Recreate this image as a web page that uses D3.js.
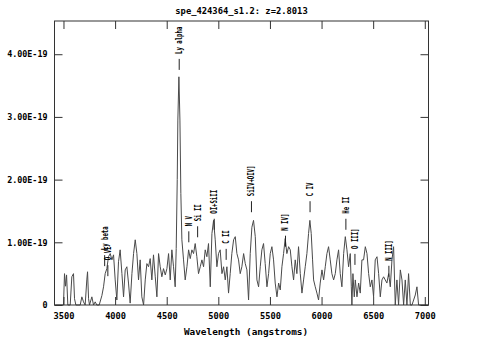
<!DOCTYPE html>
<html>
<head>
<meta charset="utf-8">
<script src="https://cdn.jsdelivr.net/npm/d3@7/dist/d3.min.js"></script>
<style>
  html, body { margin: 0; padding: 0; background: #fff; }
  svg { display: block; }
  text { font-family: "DejaVu Sans Mono", monospace; font-weight: bold; fill: #000; }
</style>
</head>
<body>
<svg id="chart" width="483" height="358"></svg>
<script>
const title = "spe_424364_s1.2: z=2.8013";
const xTitle = "Wavelength (angstroms)";
const redshift = 2.8013;
const fluxUnit = 1e-19;

// observed wavelength (Angstrom)
const wavelength = [
  3420,3500,3510,3520,3530,3542,3565,3581,3597,3607,
  3620,3662,3678,3694,3710,3726,3733,3743,3752,3775,
  3791,3807,3823,3846,3872,3888,3904,3920,3936,3953,
  3969,3985,4001,4017,4033,4049,4066,4082,4098,4114,
  4130,4146,4163,4179,4195,4211,4227,4243,4259,4276,
  4292,4308,4324,4340,4356,4372,4389,4405,4421,4437,
  4453,4469,4486,4502,4518,4534,4550,4566,4582,4592,
  4602,4608,4618,4628,4637,4647,4663,4679,4696,4712,
  4728,4744,4760,4776,4792,4808,4825,4841,4857,4873,
  4889,4905,4922,4938,4954,4970,4986,5002,5018,5035,
  5051,5067,5083,5099,5115,5131,5148,5164,5180,5196,
  5212,5228,5245,5261,5277,5293,5309,5325,5341,5358,
  5374,5390,5406,5422,5438,5454,5471,5487,5503,5519,
  5535,5551,5568,5584,5600,5616,5632,5648,5664,5681,
  5697,5713,5729,5745,5761,5777,5794,5810,5826,5842,
  5858,5874,5887,5900,5913,5923,5939,5955,5971,5987,
  6004,6020,6036,6052,6068,6084,6100,6117,6133,6149,
  6165,6181,6197,6214,6230,6246,6262,6278,6288,6294,
  6304,6317,6327,6343,6359,6375,6391,6407,6424,6440,
  6456,6472,6488,6504,6520,6537,6553,6569,6585,6601,
  6617,6633,6650,6666,6682,6698,6714,6730,6746,6763,
  6779,6795,6811,6827,6843,6860,6876,6892,6908,6924,
  6940,6973,7030
];
// flux in units of 1e-19
const flux = [
  0,0,0.50,0.30,0.48,0,0,0.45,0.50,0.10,
  0,0,0.13,0.05,0,0.40,0.53,0.10,0,0.13,
  0,0.05,0,0,0.15,0.29,0.50,0.58,0.77,0.82,
  0.72,0.80,0.40,0.08,0.69,0.88,0.50,0.13,0.56,0.61,
  0.35,0.03,0.50,0.82,1.04,0.82,0.40,0.72,0.13,0,
  0.40,0.66,0.61,0.74,0.40,0.80,0.45,0.13,0.82,0.61,
  0.45,0.58,0.48,0.58,0.82,0.40,0.88,0.61,0.29,0.90,
  2.00,2.95,3.64,2.95,1.78,1.04,0.72,0.40,0.61,0.88,
  0.74,0.88,0.82,0.98,0.77,0.50,0.61,0.72,0.61,0.88,
  0.77,0.98,0.29,1.14,1.35,1.04,0.61,0.82,0.88,0.50,
  0.61,0.40,0.61,0.19,0.50,0.82,1.04,1.09,0.82,0.72,
  0.50,0.61,0.82,0.66,0.56,0.08,0.82,1.24,1.35,1.09,
  0.40,0.29,0.61,0.88,0.98,0.66,0.29,0.50,0.82,0.93,
  0.72,0.35,0.13,0.35,0.24,0.61,0.82,1.06,0.82,0.93,
  0.88,0.61,0.40,0.72,0.50,0.93,0.50,0.19,0.40,0.61,
  0.82,1.14,1.35,1.14,0.72,0.40,0.29,0.19,0.08,0.35,
  0.56,0.40,0.61,0.82,0.93,0.72,0.50,0.40,0.50,0.72,
  0.88,0.50,0.29,0.82,1.09,0.88,0.61,0.82,0.30,0,
  0.50,0.13,0.40,0.13,0.35,0.19,0.72,0.72,0.93,0.82,
  0.50,0.29,0.40,0.13,0.72,0.77,0.50,0.13,0.40,0.45,
  0.40,0.35,0.50,0.29,0.72,0.93,0,0.40,0,0.56,
  0.40,0,0.40,0,0.50,0,0,0.08,0.16,0.29,
  0,0,0
];

const xTicks = [3500, 4000, 4500, 5000, 5500, 6000, 6500, 7000];
const yTicks = [0, 1, 2, 3, 4];

// emission-line annotations
const lineNames = ["Ly beta","O VI","Ly alpha","N V","Si II","OI+SiII","C II","SiIV+OIV]","N IV]","C IV","He II","O III]","N III]"];
const lineRest  = [1025.7, 1033.8, 1215.67, 1240.1, 1262.6, 1304.9, 1335.3, 1399.8, 1486.5, 1549.1, 1640.4, 1663.5, 1750.0];
const lineLevel = [0.62, 0.46, 3.75, 1.00, 1.08, 1.20, 0.72, 1.48, 0.93, 1.48, 1.20, 0.64, 0.45];

(function () {
const svg = d3.select("#chart");
const L = 54.5, R = 428.5, T = 21, B = 305;

const x = d3.scaleLinear().domain([3413, 7036]).range([L, R]);
const y = d3.scaleLinear().domain([0, 4.53]).range([B, T]);

const frameColor = "#333";

// spectrum
const pts = wavelength.map((w, i) => [w, flux[i]]);
svg.append("path")
  .datum(pts)
  .attr("fill", "none")
  .attr("stroke", "#4a4a4a")
  .attr("stroke-width", 1)
  .attr("d", d3.line().x(d => x(d[0])).y(d => y(d[1])));

// frame
svg.append("rect")
  .attr("x", L).attr("y", T).attr("width", R - L).attr("height", B - T)
  .attr("fill", "none").attr("stroke", frameColor).attr("stroke-width", 1);

// axes
const tickLen = 8;
const fmtY = d => d === 0 ? "0" : d3.format(".2f")(d) + "E-19";

const gBottom = svg.append("g").attr("transform", `translate(0,${B})`)
  .call(d3.axisBottom(x).tickValues(xTicks).tickSizeInner(-tickLen).tickSizeOuter(0).tickPadding(8).tickFormat(d3.format("d")));
const gTop = svg.append("g").attr("transform", `translate(0,${T})`)
  .call(d3.axisTop(x).tickValues(xTicks).tickSizeInner(-tickLen).tickSizeOuter(0).tickFormat(""));
const gLeft = svg.append("g").attr("transform", `translate(${L},0)`)
  .call(d3.axisLeft(y).tickValues(yTicks).tickSizeInner(-tickLen).tickSizeOuter(0).tickPadding(7).tickFormat(fmtY));
const gRight = svg.append("g").attr("transform", `translate(${R},0)`)
  .call(d3.axisRight(y).tickValues(yTicks).tickSizeInner(-tickLen).tickSizeOuter(0).tickFormat(""));

[gBottom, gTop, gLeft, gRight].forEach(g => {
  g.select(".domain").remove();
  g.selectAll(".tick line").attr("stroke", frameColor);
  g.selectAll("text").attr("font-family", "DejaVu Sans Mono").attr("font-weight", "bold").attr("fill", "#000");
});
gBottom.selectAll("text").attr("font-size", 8.7);
gLeft.selectAll("text").attr("font-size", 8.4);

// title
svg.append("text").attr("x", (L + R) / 2).attr("y", 13.5)
  .attr("text-anchor", "middle").attr("font-size", 8.8).text(title);
svg.append("text").attr("x", 246).attr("y", 335)
  .attr("text-anchor", "middle").attr("font-size", 9.4).text(xTitle);

// line labels
const labTick = 11, labGap = 5, charLen = 3.4;
lineNames.forEach((name, i) => {
  const lx = x(lineRest[i] * (1 + redshift));
  const yb = y(lineLevel[i]);
  const yt = yb - labTick;
  svg.append("line").attr("x1", lx).attr("x2", lx).attr("y1", yt).attr("y2", yb)
    .attr("stroke", "#222").attr("stroke-width", 1);
  const ty = yt - labGap;
  svg.append("text")
    .attr("transform", `translate(${lx + 3},${ty}) rotate(-90)`)
    .attr("font-size", 8)
    .attr("textLength", name.length * charLen)
    .attr("lengthAdjust", "spacingAndGlyphs")
    .text(name);
});
})();
</script>
</body>
</html>
